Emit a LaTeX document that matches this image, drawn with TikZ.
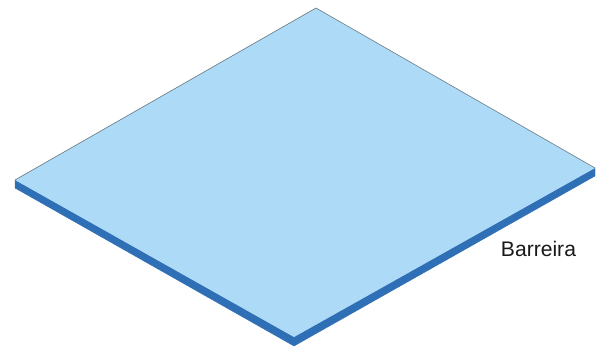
\documentclass[tikz,border=0pt]{standalone}
\usepackage{fontspec}
\setmainfont{Liberation Sans}
\definecolor{slabtop}{HTML}{ADDBF7}
\definecolor{slabside}{HTML}{2F6FB5}
\definecolor{slabedge}{HTML}{6E7F88}
\begin{document}
\begin{tikzpicture}[
    x=0.025cm, y=-0.025cm,
    slab/.style={fill=slabtop, line join=round},
    rim/.style={draw=slabedge, line width=0.45pt, line join=round},
    side/.style={fill=slabside, draw=slabside, line width=0.3pt, line join=round},
    label/.style={font=\fontsize{15}{18}\selectfont, text=black!90, inner sep=0pt},
]
\useasboundingbox (0,0) rectangle (600,352);

\coordinate (top) at (316,8);
\coordinate (right) at (595,168);
\coordinate (front) at (294,337);
\coordinate (left) at (15,180);
\coordinate (rightlow) at (595,176);
\coordinate (frontlow) at (294,346);
\coordinate (leftlow) at (15,188);

% edge of the plate
\draw[side] (left) -- (front) -- (right) -- (rightlow) -- (frontlow) -- (leftlow) -- cycle;
\fill[slab] (top) -- (right) -- (front) -- (left) -- cycle;
\draw[rim] (left) -- (top) -- (right);

\node[label] (barreira) at (538.5,249) {Barreira};

\end{tikzpicture}
\end{document}
